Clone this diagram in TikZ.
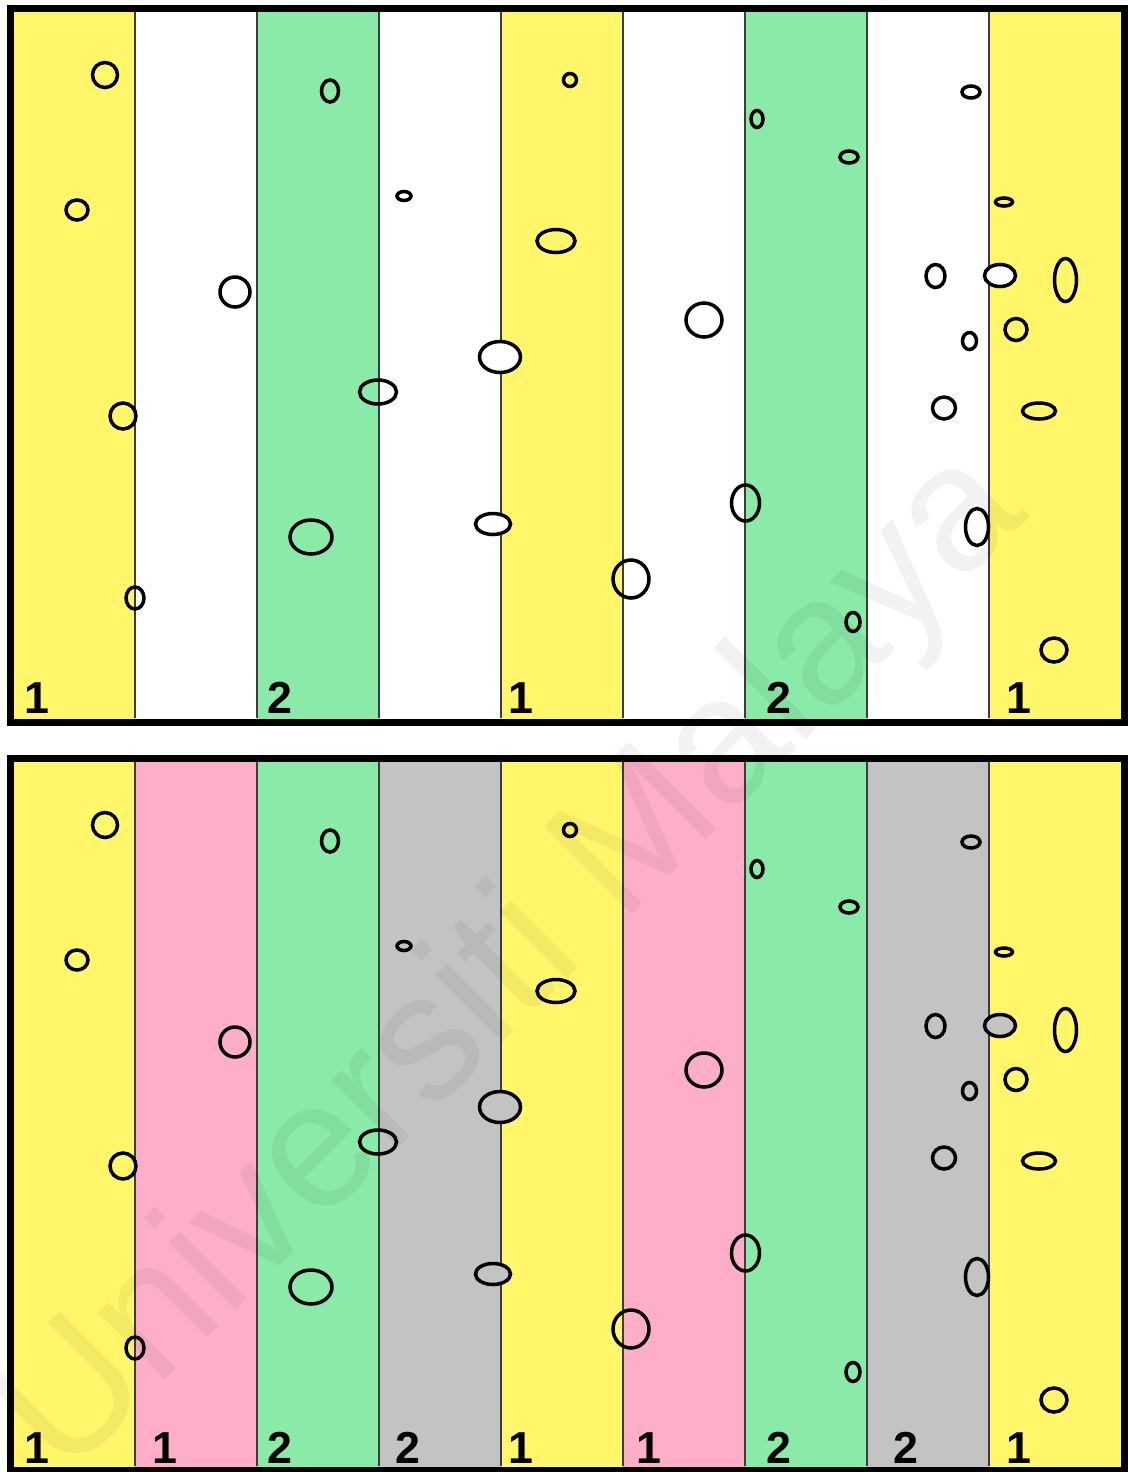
\documentclass[tikz,border=0pt]{standalone}
\usepackage{fontspec}
\newfontfamily\labelfont{Liberation Sans}
\usepackage{tikz}
\usetikzlibrary{positioning}
\usepackage{xcolor}
\definecolor{zoneyellow}{RGB}{255,246,106}
\definecolor{zonegreen}{RGB}{138,234,167}
\definecolor{zonepink}{RGB}{255,174,201}
\definecolor{zonegray}{RGB}{195,195,195}
\definecolor{dividercolor}{RGB}{60,60,60}

\begin{document}
\begin{tikzpicture}[
    x=0.02cm, y=-0.02cm,
    frame/.style={draw=black, line width=4pt},
    divider/.style={draw=dividercolor, line width=0.8pt},
    drop/.style={draw=black, line width=2pt},
    zone/.style={font=\labelfont\fontsize{25.5}{28}\selectfont\bfseries, inner sep=0pt, anchor=base},
    watermark/.style={font=\labelfont\fontsize{102}{110}\selectfont, text=black, text opacity=0.05, rotate=45, inner sep=0pt}
]
\useasboundingbox (0,0) rectangle (1128,1472);
\fill[white] (0,0) rectangle (1128,1472);

% top panel: stripes
\foreach \xa/\xb/\col in {10/135/zoneyellow, 135/257/white, 257/379/zonegreen, 379/501/white,
    501/623/zoneyellow, 623/745/white, 745/867/zonegreen, 867/989/white, 989/1125/zoneyellow}
    \fill[\col] (\xa,8) rectangle (\xb,722);
% bottom panel: stripes
\foreach \xa/\xb/\col in {10/135/zoneyellow, 135/257/zonepink, 257/379/zonegreen, 379/501/zonegray,
    501/623/zoneyellow, 623/745/zonepink, 745/867/zonegreen, 867/989/zonegray, 989/1125/zoneyellow}
    \fill[\col] (\xa,758) rectangle (\xb,1470);

\foreach \xv in {135,257,379,501,623,745,867,989} {
    \draw[divider] (\xv,12) -- (\xv,718);
    \draw[divider] (\xv,762) -- (\xv,1466);
}

% drops, same places in both panels
\foreach \dy in {0,750} {
    \foreach \cx/\cy/\rx/\ry in {105/75/12.5/12.5, 77/210/11/10, 235/292/15/15, 330/91/8.5/11,
        123/416/13/13, 135/598/9/11, 311/537/21/17, 378/392/18.5/12, 404/196/7/4.5,
        570/80/6.5/6.5, 556/241/19/11.5, 631/579/18/19, 704/320/18/17, 745.5/503/14/18,
        757/119/6/8.5, 849/157/9/6, 853/622/7/9.5, 971/92/9/6, 1004/202/8.5/4,
        935.5/276/9.5/11.5, 1065.5/280/11/21.5, 969.5/341/7/8.5, 1016/329.5/11/11,
        944/408/11.5/11, 1039/411/16.5/8, 977/527/11.5/18.5, 1054/650/13/12}
        \draw[drop] ({\cx},{\cy+\dy}) ellipse [x radius=\rx, y radius=\ry];
}
\foreach \cx/\cy/\rx/\ry in {500/357/20.5/15.5, 493/524/17.5/10.5, 1000/275.5/15.5/11}
    \draw[drop, fill=white] (\cx,\cy) ellipse [x radius=\rx, y radius=\ry];
\foreach \cx/\cy/\rx/\ry in {500/1107/20.5/15.5, 493/1274/17.5/10.5, 1000/1025.5/15.5/11}
    \draw[drop, fill=zonegray] (\cx,\cy) ellipse [x radius=\rx, y radius=\ry];

% zone numbers
\node[zone] (ta) at (37,713) {1};
\node[zone] (tb) at (280,713) {2};
\node[zone] (tc) at (521,713) {1};
\node[zone] (td) at (779,713) {2};
\node[zone] (te) at (1019,713) {1};

\node[zone] (ba) at (37,1463) {1};
\node[zone] (bb) at (165,1463) {1};
\node[zone] (bc) at (280,1463) {2};
\node[zone] (bd) at (408,1463) {2};
\node[zone] (be) at (521,1463) {1};
\node[zone] (bf) at (649,1463) {1};
\node[zone] (bg) at (779,1463) {2};
\node[zone] (bh) at (906,1463) {2};
\node[zone] (bi) at (1019,1463) {1};

\draw[frame] (10.5,8.5) rectangle (1125,722);
\draw[frame] (10.5,758.5) rectangle (1125,1470);

\node[watermark] (wm) at (515,965) {Universiti Malaya};
\end{tikzpicture}
\end{document}
